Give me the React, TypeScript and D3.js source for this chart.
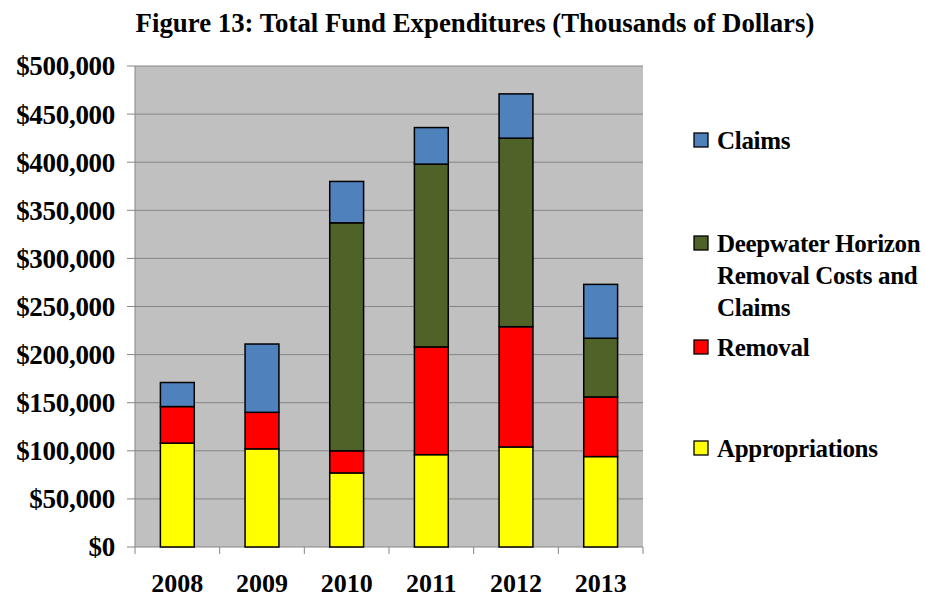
import React from 'react';
import * as d3 from 'd3';

const years = ['2008', '2009', '2010', '2011', '2012', '2013'];
const appropriations = [108, 102, 77, 96, 104, 94];
const removal = [38, 38, 23, 112, 125, 62];
const deepwater = [0, 0, 237, 190, 196, 61];
const claims = [25, 71, 43, 38, 46, 56];

const seriesNames = ['Appropriations', 'Removal', 'Deepwater Horizon Removal Costs and Claims', 'Claims'];
const seriesColors = ['#FFFF00', '#FF0000', '#4F6228', '#4F81BD'];
const yTicks = [0, 50, 100, 150, 200, 250, 300, 350, 400, 450, 500];

const width = 925;
const height = 597;
const plot = { left: 135, right: 643, top: 66, bottom: 547 };
const font = 'Liberation Serif';

// legend entries top to bottom, with wrapped lines
const legendItems = [
  { idx: 3, lines: ['Claims'], y: 140 },
  { idx: 2, lines: ['Deepwater Horizon', 'Removal Costs and', 'Claims'], y: 243 },
  { idx: 1, lines: ['Removal'], y: 347 },
  { idx: 0, lines: ['Appropriations'], y: 448 },
];

export default function App() {
  const x = d3
    .scaleBand<string>()
    .domain(years)
    .range([plot.left, plot.right])
    .paddingInner(0.6)
    .paddingOuter(0.3);
  const y = d3.scaleLinear().domain([0, 500]).range([plot.bottom, plot.top]);

  const rows = years.map((yr, i) => ({
    year: yr,
    s0: appropriations[i],
    s1: removal[i],
    s2: deepwater[i],
    s3: claims[i],
  }));
  const stacked = d3.stack<any>().keys(['s0', 's1', 's2', 's3'])(rows);
  const fmt = (v: number) => '$' + d3.format(',')(v * 1000);
  const step = x.step();

  return (
    <svg width={width} height={height} style={{ position: 'absolute', left: 0, top: 0 }}>
      <rect x={0} y={0} width={width} height={height} fill="#ffffff" />
      <text
        x={475}
        y={32}
        textAnchor="middle"
        fontFamily={font}
        fontWeight="bold"
        fontSize={26.8}
      >
        Figure 13: Total Fund Expenditures (Thousands of Dollars)
      </text>

      <rect
        x={plot.left}
        y={plot.top}
        width={plot.right - plot.left}
        height={plot.bottom - plot.top}
        fill="#C0C0C0"
      />
      {yTicks.map((t) => (
        <g key={t}>
          {t > 0 && (
            <line x1={plot.left} x2={plot.right} y1={y(t)} y2={y(t)} stroke="#868686" strokeWidth={1} />
          )}
          <line x1={plot.left - 8} x2={plot.left} y1={y(t)} y2={y(t)} stroke="#868686" strokeWidth={1} />
          <text
            x={115}
            y={y(t)}
            dy="0.35em"
            textAnchor="end"
            fontFamily={font}
            fontWeight="bold"
            fontSize={27}
            letterSpacing={-0.3}
          >
            {fmt(t)}
          </text>
        </g>
      ))}
      <line x1={plot.left} x2={plot.left} y1={plot.top} y2={plot.bottom} stroke="#868686" strokeWidth={1} />
      <line x1={plot.left} x2={plot.right} y1={plot.bottom} y2={plot.bottom} stroke="#868686" strokeWidth={1} />
      {years.map((yr, i) => (
        <line
          key={'t' + yr}
          x1={plot.left + step * i}
          x2={plot.left + step * i}
          y1={plot.bottom}
          y2={plot.bottom + 7}
          stroke="#868686"
        />
      ))}
      <line x1={plot.right} x2={plot.right} y1={plot.bottom} y2={plot.bottom + 7} stroke="#868686" />

      {stacked.map((layer, li) => (
        <g key={li} fill={seriesColors[li]} stroke="#000" strokeWidth={1.5}>
          {layer.map((d, i) =>
            d[1] - d[0] > 0 ? (
              <rect
                key={i}
                x={x(years[i])}
                y={y(d[1])}
                width={x.bandwidth()}
                height={y(d[0]) - y(d[1])}
              />
            ) : null
          )}
        </g>
      ))}

      {years.map((yr) => (
        <text
          key={'l' + yr}
          x={(x(yr) || 0) + x.bandwidth() / 2}
          y={592}
          textAnchor="middle"
          fontFamily={font}
          fontWeight="bold"
          fontSize={26}
        >
          {yr}
        </text>
      ))}

      {legendItems.map((it) => (
        <g key={it.idx}>
          <rect
            x={694}
            y={it.y - 7}
            width={14}
            height={14}
            fill={seriesColors[it.idx]}
            stroke="#000"
            strokeWidth={1.3}
          />
          {it.lines.map((ln, k) => (
            <text
              key={k}
              x={717}
              y={it.y + k * 32}
              dy="0.35em"
              fontFamily={font}
              fontWeight="bold"
              fontSize={25}
              letterSpacing={-0.3}
            >
              {ln}
            </text>
          ))}
        </g>
      ))}
    </svg>
  );
}
